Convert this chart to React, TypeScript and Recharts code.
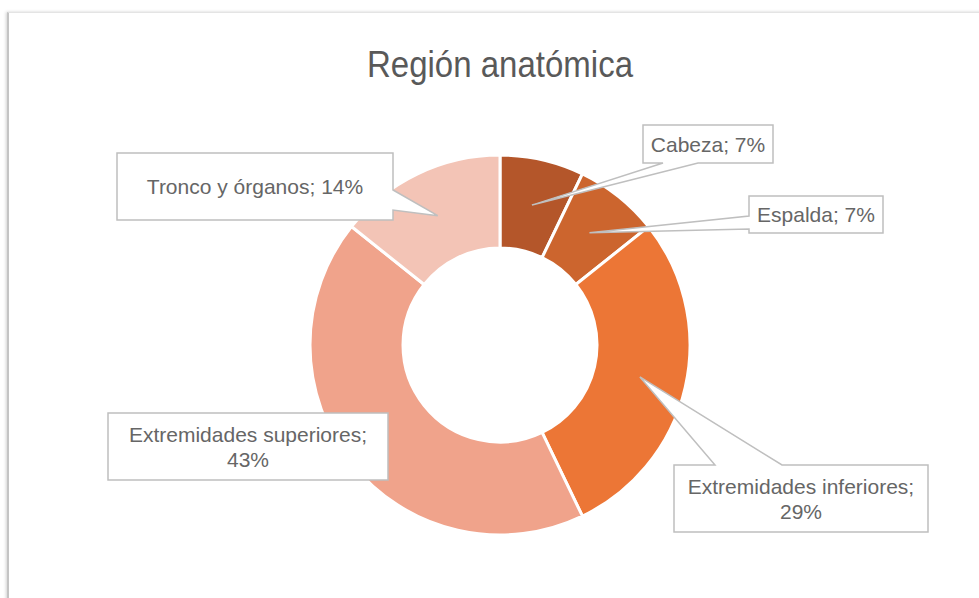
import { PieChart, Pie, Cell } from 'recharts';

// counts per anatomical region (14 cases total)
const regions = ['Cabeza', 'Espalda', 'Extremidades inferiores', 'Extremidades superiores', 'Tronco y órganos'];
const counts = [1, 1, 4, 6, 2];
const colors = ['#B4562A', '#CC652E', '#EC7636', '#F0A38B', '#F3C4B6'];

// callout boxes placed like the Excel data callouts
const calloutBoxes = [
  { x: 643, y: 125, w: 130, h: 38, side: 'bottom', b1: 663, b2: 698 },
  { x: 749, y: 196, w: 134, h: 37, side: 'left', b1: 216, b2: 229 },
  { x: 674, y: 465, w: 254, h: 67, side: 'top', b1: 715, b2: 782 },
  { x: 108, y: 413, w: 280, h: 67, side: 'none', b1: 0, b2: 0 },
  { x: 117, y: 153, w: 276, h: 67, side: 'right', b1: 190, b2: 210 },
];

const data = regions.map((name, i) => ({ name, value: counts[i] }));

const RAD = Math.PI / 180;

function calloutPath(b: typeof calloutBoxes[number], tx: number, ty: number) {
  const { x, y, w, h, side, b1, b2 } = b;
  const r = x + w;
  const bt = y + h;
  const p: string[] = [`M${x},${y}`];
  if (side === 'top') p.push(`L${b1},${y}`, `L${tx},${ty}`, `L${b2},${y}`);
  p.push(`L${r},${y}`);
  if (side === 'right') p.push(`L${r},${b1}`, `L${tx},${ty}`, `L${r},${b2}`);
  p.push(`L${r},${bt}`);
  if (side === 'bottom') p.push(`L${b2},${bt}`, `L${tx},${ty}`, `L${b1},${bt}`);
  p.push(`L${x},${bt}`);
  if (side === 'left') p.push(`L${x},${b2}`, `L${tx},${ty}`, `L${x},${b1}`);
  p.push('Z');
  return p.join(' ');
}

const renderCallout = (props: any) => {
  const { cx, cy, midAngle, innerRadius, outerRadius, index, name, percent } = props;
  const box = calloutBoxes[index];
  const rm = (innerRadius + outerRadius) / 2;
  const tx = cx + rm * Math.cos(-midAngle * RAD);
  const ty = cy + rm * Math.sin(-midAngle * RAD);
  const pct = `${Math.round(percent * 100)}%`;
  const lines = name.length > 18 ? [`${name};`, pct] : [`${name}; ${pct}`];
  const midY = box.y + box.h / 2;
  return (
    <g key={`callout-${index}`}>
      <path d={calloutPath(box, tx, ty)} fill="#FFFFFF" stroke="#BFBFBF" strokeWidth={1.5} />
      {lines.map((t, i) => (
        <text
          key={i}
          x={box.x + box.w / 2}
          y={midY + (i - (lines.length - 1) / 2) * 25 + 7.5}
          textAnchor="middle"
          fill="#666666"
          fontSize={21}
          fontFamily="'Liberation Sans', Arial, sans-serif"
        >
          {t}
        </text>
      ))}
    </g>
  );
};

export default function App() {
  return (
    <div style={{ position: 'absolute', left: 0, top: 0, width: 979, height: 598, background: '#fff', overflow: 'hidden' }}>
      <div
        style={{
          position: 'absolute',
          left: 7,
          top: 12,
          width: 990,
          height: 600,
          borderTop: '1px solid #E4E4E4',
          borderLeft: '2px solid #C4C4C4',
          boxShadow: '-1px 0 3px rgba(0,0,0,0.18)',
        }}
      />
      <svg width={979} height={598} style={{ position: 'absolute', left: 0, top: 0 }}>
        <text
          x={500}
          y={77}
          textAnchor="middle"
          fill="#595959"
          fontSize={36}
          textLength={266}
          lengthAdjust="spacingAndGlyphs"
          fontFamily="'Liberation Sans', Arial, sans-serif"
        >
          Región anatómica
        </text>
      </svg>
      <div style={{ position: 'absolute', left: 0, top: 0 }}>
        <PieChart width={979} height={598} margin={{ top: 0, right: 0, bottom: 0, left: 0 }}>
          <Pie
            data={data}
            dataKey="value"
            nameKey="name"
            cx={500}
            cy={345}
            innerRadius={97}
            outerRadius={190}
            startAngle={90}
            endAngle={-270}
            stroke="#FFFFFF"
            strokeWidth={3}
            label={renderCallout}
            labelLine={false}
            isAnimationActive={false}
          >
            {data.map((d, i) => (
              <Cell key={d.name} fill={colors[i]} />
            ))}
          </Pie>
        </PieChart>
      </div>
    </div>
  );
}
